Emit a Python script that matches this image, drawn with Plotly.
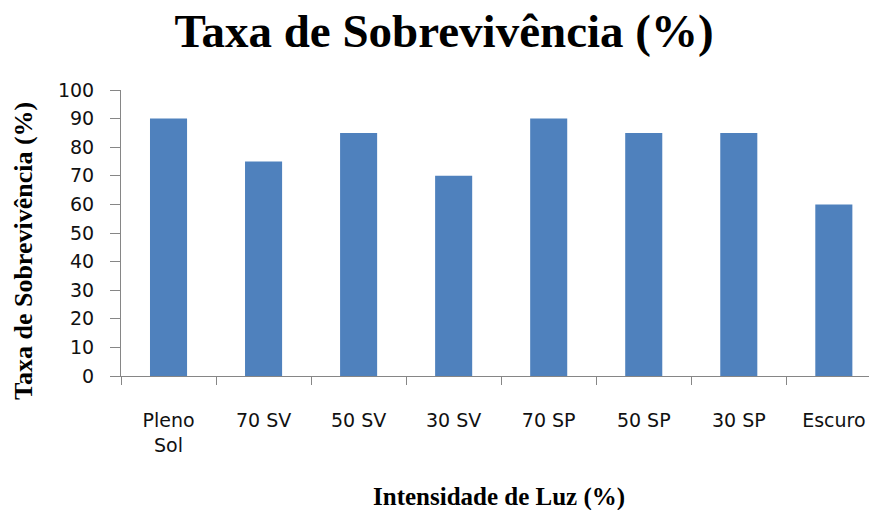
import plotly.graph_objects as go

categories = ["Pleno<br>Sol", "70 SV", "50 SV", "30 SV", "70 SP", "50 SP", "30 SP", "Escuro"]
values = [90, 75, 85, 70, 90, 85, 85, 60]
title_text = "Taxa de Sobrevivência (%)"
y_title = "Taxa de Sobrevivência (%)"
x_title = "Intensidade de Luz (%)"

fig = go.Figure(go.Bar(x=categories, y=values, marker=dict(color="#4F81BD", line=dict(width=0))))

fig.update_layout(
    width=869, height=510,
    margin=dict(l=121, r=0, t=90, b=134),
    paper_bgcolor="white", plot_bgcolor="white",
    bargap=0.61,
    showlegend=False,
    title=dict(text="<b>" + title_text + "</b>", x=0.511, xref="container", xanchor="center",
               y=0.941, yref="container", yanchor="middle",
               font=dict(family="Liberation Serif", size=47, color="black")),
    annotations=[
        dict(text="<b>" + y_title + "</b>", xref="paper", yref="paper",
             x=-0.131, y=0.437, xanchor="center", yanchor="middle", textangle=-90,
             showarrow=False, font=dict(family="Liberation Serif", size=26, color="black")),
        dict(text="<b>" + x_title + "</b>", xref="paper", yref="paper",
             x=0.505, y=-0.423, xanchor="center", yanchor="middle",
             showarrow=False, font=dict(family="Liberation Serif", size=25, color="black")),
    ],
)
fig.update_xaxes(
    type="category", range=[-0.5, 7.37], automargin=False,
    showline=True, linecolor="#868686", linewidth=1,
    ticks="outside", tickson="boundaries", ticklen=8, tickcolor="#868686",
    tickfont=dict(family="DejaVu Sans", size=19, color="#111"),
    ticklabelstandoff=27,
    showgrid=False,
)
fig.update_yaxes(
    range=[0, 100], dtick=10, automargin=False,
    showline=True, linecolor="#868686", linewidth=1,
    ticks="outside", ticklen=10, tickcolor="#868686",
    tickfont=dict(family="DejaVu Sans", size=19, color="#111"),
    ticklabelstandoff=12,
    showgrid=False, zeroline=False,
)

fig.write_html("out.html", config={"displayModeBar": False},
               post_script="document.body.style.margin='0';")
